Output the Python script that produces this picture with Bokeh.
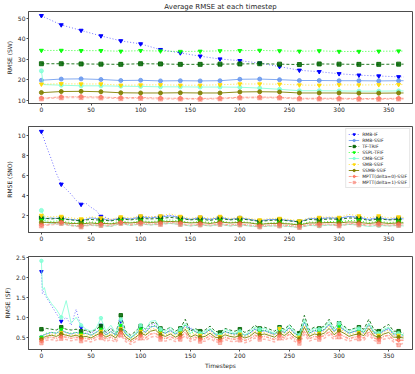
from bokeh.plotting import figure
from bokeh.models import Range1d, FixedTicker, Legend, LegendItem
from bokeh.layouts import column
from bokeh.embed import file_html
from bokeh.resources import INLINE

# ---------------- data ----------------
SERIES = ["RMB-IF", "RMB-SSIF", "TF-TRIF", "SSPL-TFIF", "CMB-SCIF",
          "SMB-SSIF", "SSMB-SSIF", "MPTT(delta=0)-SSIF", "MPTT(delta=1)-SSIF"]

X_TICKS = [0, 50, 100, 150, 200, 250, 300, 350]

# Panel 1: RMSE (SW)
SW_X = [0, 2] + list(range(20, 361, 20)) + [365]
SW_RMB_IF = [51.3, 50.8, 46.8, 44.1, 41.4, 39.0, 37.5, 34.7, 33.1, 31.5, 30.1, 29.3, 28.1, 26.4, 24.6, 23.9, 22.9, 22.2, 21.8, 21.4, 21.3]
SW_RMB_SSIF = [19.7, 19.8, 20.3, 20.4, 20.1, 19.6, 19.7, 19.4, 19.5, 19.4, 19.5, 20.2, 20.3, 20.0, 19.6, 19.6, 19.5, 19.5, 19.4, 19.5, 19.5]
SW_TF_TRIF = [27.8, 27.8, 27.8, 27.7, 27.6, 27.5, 27.8, 27.7, 27.5, 27.5, 27.6, 27.7, 27.8, 27.6, 27.4, 27.7, 27.6, 27.5, 27.5, 27.6, 27.6]
SW_SSPL_TFIF = [34.3, 34.3, 34.3, 34.2, 34.2, 33.9, 34.2, 34.0, 33.8, 33.9, 34.1, 34.2, 34.3, 34.1, 33.9, 34.1, 33.8, 33.8, 33.9, 34.0, 34.0]
SW_CMB_SCIF = [24.3, 17.6, 17.3, 17.0, 17.0, 16.8, 16.7, 16.5, 16.5, 16.4, 16.4, 16.3, 15.9, 15.3, 14.6, 14.6, 14.5, 14.4, 14.4, 14.5, 14.5]
SW_SMB_SSIF = [17.8, 17.8, 18.0, 17.9, 17.9, 17.3, 17.4, 17.5, 17.3, 17.3, 17.5, 17.9, 17.9, 17.8, 17.4, 17.3, 17.5, 17.4, 17.5, 17.6, 17.6]
SW_SSMB_SSIF = [13.7, 13.7, 14.2, 14.3, 14.1, 13.6, 13.5, 13.5, 13.6, 13.5, 13.5, 14.0, 14.1, 14.0, 13.5, 13.5, 13.5, 13.4, 13.4, 13.5, 13.5]
SW_MPTT0 = [11.0, 11.0, 11.6, 11.7, 11.5, 11.2, 11.3, 11.0, 10.9, 10.8, 11.0, 11.4, 11.5, 11.4, 10.9, 10.9, 10.9, 10.8, 10.8, 10.9, 10.9]
SW_MPTT1 = [10.6, 10.6, 11.1, 11.2, 11.0, 10.7, 10.8, 10.5, 10.5, 10.4, 10.6, 11.0, 11.1, 11.0, 10.5, 10.5, 10.5, 10.4, 10.4, 10.5, 10.5]

# Panel 2: RMSE (SNO)
SNO_X = list(range(0, 70, 5)) + list(range(70, 361, 10)) + [365]
SNO_RMB_IF = [10.35, 8.9, 7.6, 6.2, 5.1, 4.6, 4.1, 3.5, 3.1, 3.2, 2.8, 2.5, 1.9, 1.8,
              1.6, 1.7, 1.6, 1.9, 1.8, 1.9, 2.0, 1.8, 1.6, 1.8, 1.6, 1.8, 1.6, 1.75, 1.6, 1.45,
              1.6, 1.6, 1.5, 1.35, 1.7, 1.7, 1.8, 1.7, 1.9, 1.8, 1.6, 1.8, 1.6, 1.75, 1.7]
SNO_RMB_SSIF = [1.75, 1.7, 1.75, 1.7, 1.75, 1.65, 1.6, 1.55, 1.5, 1.6, 1.75, 1.7, 1.65, 1.6,
                1.5, 1.75, 1.65, 1.85, 1.75, 1.85, 1.95, 1.8, 1.6, 1.75, 1.6, 1.8, 1.6, 1.75, 1.6, 1.45,
                1.6, 1.6, 1.5, 1.35, 1.7, 1.65, 1.75, 1.7, 1.9, 1.8, 1.6, 1.75, 1.6, 1.7, 1.65]
SNO_TF_TRIF = [1.75, 1.7, 1.65, 1.7, 1.7, 1.6, 1.55, 1.5, 1.45, 1.55, 1.6, 1.55, 1.55, 1.5,
               1.45, 1.65, 1.55, 1.7, 1.65, 1.7, 1.8, 1.7, 1.55, 1.65, 1.5, 1.7, 1.55, 1.65, 1.55, 1.4,
               1.5, 1.55, 1.45, 1.35, 1.6, 1.55, 1.65, 1.6, 1.75, 1.7, 1.5, 1.65, 1.55, 1.6, 1.6]
SNO_SSPL_TFIF = [1.5, 1.45, 1.4, 1.45, 1.45, 1.35, 1.3, 1.25, 1.2, 1.3, 1.35, 1.3, 1.3, 1.25,
                 1.2, 1.45, 1.3, 1.45, 1.4, 1.45, 1.55, 1.45, 1.3, 1.4, 1.3, 1.45, 1.3, 1.4, 1.3, 1.15,
                 1.25, 1.3, 1.2, 1.1, 1.35, 1.3, 1.4, 1.35, 1.5, 1.45, 1.3, 1.4, 1.3, 1.35, 1.3]
SNO_CMB_SCIF = [2.5, 1.3, 1.2, 1.15, 1.2, 1.1, 1.0, 0.95, 0.9, 1.0, 1.05, 1.0, 1.0, 0.95,
                0.9, 1.2, 1.0, 1.15, 1.05, 1.15, 1.2, 1.1, 0.95, 1.05, 0.95, 1.1, 0.95, 1.05, 0.95, 0.85,
                0.95, 0.95, 0.9, 0.8, 1.0, 0.95, 1.05, 1.0, 1.1, 1.05, 0.9, 1.0, 0.95, 1.0, 0.95]
SNO_SMB_SSIF = [2.0, 1.9, 1.85, 1.9, 1.9, 1.8, 1.75, 1.7, 1.65, 1.75, 1.85, 1.8, 1.75, 1.7,
                1.6, 1.85, 1.75, 1.95, 1.85, 1.95, 2.15, 1.9, 1.7, 1.85, 1.7, 1.9, 1.7, 1.8, 1.7, 1.55,
                1.7, 1.7, 1.6, 1.45, 1.75, 1.8, 1.85, 1.8, 2.1, 1.95, 1.75, 1.95, 1.75, 1.85, 1.8]
SNO_SSMB_SSIF = [1.3, 1.3, 1.3, 1.3, 1.35, 1.25, 1.2, 1.2, 1.15, 1.2, 1.25, 1.2, 1.2, 1.2,
                 1.15, 1.3, 1.25, 1.35, 1.3, 1.35, 1.4, 1.35, 1.25, 1.3, 1.2, 1.35, 1.25, 1.3, 1.25, 1.1,
                 1.2, 1.2, 1.15, 1.05, 1.25, 1.25, 1.3, 1.25, 1.35, 1.3, 1.2, 1.3, 1.2, 1.25, 1.25]
SNO_MPTT0 = [1.05, 1.1, 1.15, 1.2, 1.3, 1.15, 1.05, 1.0, 0.95, 1.05, 1.1, 1.05, 1.1, 1.05,
             1.0, 1.3, 1.1, 1.25, 1.15, 1.2, 1.3, 1.2, 1.05, 1.15, 1.05, 1.2, 1.05, 1.15, 1.05, 0.95,
             1.05, 1.05, 1.0, 0.9, 1.1, 1.1, 1.15, 1.05, 1.2, 1.15, 1.05, 1.15, 1.05, 1.1, 1.05]
SNO_MPTT1 = [0.95, 1.0, 1.05, 1.1, 1.2, 1.05, 0.95, 0.9, 0.85, 0.95, 1.0, 0.95, 1.0, 0.95,
             0.9, 1.2, 1.0, 1.15, 1.05, 1.1, 1.2, 1.1, 0.95, 1.05, 0.95, 1.1, 0.95, 1.05, 0.95, 0.85,
             0.95, 0.95, 0.9, 0.8, 1.0, 1.0, 1.05, 0.95, 1.1, 1.05, 0.95, 1.05, 0.95, 1.0, 0.95]

# Panel 3: RMSE (SF)
SF_X = [0, 1, 2, 3] + list(range(5, 366, 5))
SF_RMB_IF = [2.15, 1.6, 1.65, 1.6, 1.5, 1.3, 1.1, 0.9, 1.0, 0.8, 1.2, 0.75, 0.65, 0.6,
             0.68, 0.8, 0.6, 0.72, 0.55, 0.9, 0.58, 0.48, 0.58, 0.72, 0.65, 0.8, 0.85, 0.65, 0.6,
             0.7, 0.58, 0.65, 0.75, 0.75, 0.65, 0.55, 0.6, 0.68, 0.55, 0.52, 0.65, 0.6, 0.55, 0.6,
             0.52, 0.6, 0.7, 0.65, 0.68, 0.6, 0.55, 0.68, 0.6, 0.72, 0.6, 0.52, 0.85, 0.6, 0.68,
             0.65, 0.7, 0.82, 0.65, 0.78, 0.7, 0.6, 0.65, 0.68, 0.6, 0.78, 0.6, 0.55, 0.65, 0.7,
             0.55, 0.55, 0.5]
SF_RMB_SSIF = [0.5, 0.52, 0.55, 0.56, 0.58, 0.62, 0.6, 0.66, 0.62, 0.58, 0.62, 0.58, 0.6, 0.55,
               0.62, 0.7, 0.56, 0.64, 0.55, 0.78, 0.58, 0.48, 0.58, 0.7, 0.62, 0.76, 0.78, 0.64, 0.6,
               0.66, 0.58, 0.64, 0.8, 0.72, 0.64, 0.58, 0.6, 0.7, 0.58, 0.55, 0.64, 0.6, 0.58, 0.62,
               0.55, 0.6, 0.7, 0.64, 0.66, 0.62, 0.58, 0.68, 0.62, 0.74, 0.6, 0.54, 0.88, 0.6, 0.66,
               0.64, 0.68, 0.82, 0.64, 0.76, 0.68, 0.6, 0.64, 0.66, 0.62, 0.82, 0.62, 0.58, 0.66, 0.72,
               0.58, 0.58, 0.55]
SF_TF_TRIF = [0.7, 0.7, 0.68, 0.7, 0.72, 0.7, 0.68, 0.75, 0.7, 0.68, 0.7, 0.65, 0.68, 0.62,
              0.7, 0.78, 0.62, 0.72, 0.6, 1.05, 0.65, 0.55, 0.65, 0.78, 0.7, 0.85, 0.88, 0.72, 0.68,
              0.75, 0.65, 0.72, 0.95, 0.65, 0.72, 0.65, 0.68, 0.78, 0.65, 0.62, 0.72, 0.68, 0.65, 0.7,
              0.62, 0.68, 0.8, 0.72, 0.75, 0.7, 0.65, 0.75, 0.7, 0.82, 0.68, 0.6, 1.05, 0.68, 0.75,
              0.72, 0.78, 0.95, 0.72, 0.85, 0.78, 0.68, 0.72, 0.75, 0.7, 0.95, 0.7, 0.65, 0.75, 0.82,
              0.65, 0.65, 0.6]
SF_SSPL_TFIF = [0.5, 0.52, 0.55, 0.58, 0.6, 0.62, 0.6, 0.7, 0.62, 0.6, 0.62, 0.58, 0.6, 0.55,
                0.62, 0.7, 0.55, 0.65, 0.55, 0.8, 0.58, 0.48, 0.58, 0.7, 0.62, 0.75, 0.8, 0.65, 0.6,
                0.68, 0.58, 0.65, 0.82, 0.58, 0.65, 0.58, 0.6, 0.7, 0.58, 0.55, 0.65, 0.6, 0.58, 0.62,
                0.55, 0.6, 0.72, 0.65, 0.68, 0.62, 0.58, 0.68, 0.62, 0.75, 0.6, 0.52, 0.9, 0.6, 0.68,
                0.65, 0.7, 0.85, 0.65, 0.78, 0.7, 0.6, 0.65, 0.68, 0.62, 0.85, 0.62, 0.58, 0.68, 0.75,
                0.58, 0.58, 0.55]
SF_CMB_SCIF = [2.42, 1.75, 1.7, 1.75, 1.55, 1.35, 1.2, 1.0, 1.42, 0.85, 1.0, 0.8, 0.7, 0.65,
               0.72, 0.98, 0.65, 0.8, 0.6, 0.95, 0.62, 0.5, 0.6, 0.8, 0.7, 0.9, 0.92, 0.7, 0.65,
               0.75, 0.6, 0.7, 0.85, 0.6, 0.7, 0.6, 0.65, 0.72, 0.6, 0.55, 0.7, 0.65, 0.6, 0.65,
               0.55, 0.65, 0.75, 0.7, 0.72, 0.65, 0.6, 0.72, 0.65, 0.8, 0.65, 0.55, 0.95, 0.65, 0.72,
               0.7, 0.75, 0.9, 0.7, 0.85, 0.75, 0.65, 0.7, 0.72, 0.65, 0.85, 0.65, 0.6, 0.7, 0.75,
               0.6, 0.6, 0.55]
SF_SMB_SSIF = [0.45, 0.48, 0.5, 0.52, 0.55, 0.58, 0.56, 0.62, 0.58, 0.55, 0.58, 0.55, 0.56, 0.52,
               0.58, 0.65, 0.52, 0.6, 0.52, 0.72, 0.55, 0.45, 0.55, 0.65, 0.58, 0.7, 0.72, 0.6, 0.56,
               0.62, 0.55, 0.6, 0.75, 0.55, 0.6, 0.55, 0.56, 0.65, 0.55, 0.52, 0.6, 0.56, 0.55, 0.58,
               0.52, 0.56, 0.66, 0.6, 0.62, 0.58, 0.55, 0.72, 0.58, 0.68, 0.56, 0.5, 0.8, 0.56, 0.62,
               0.6, 0.65, 0.78, 0.6, 0.7, 0.65, 0.56, 0.6, 0.62, 0.58, 0.78, 0.58, 0.55, 0.62, 0.68,
               0.55, 0.55, 0.52]
SF_SSMB_SSIF = [0.45, 0.46, 0.48, 0.5, 0.52, 0.55, 0.52, 0.58, 0.55, 0.52, 0.55, 0.5, 0.52, 0.48,
                0.55, 0.6, 0.5, 0.56, 0.48, 0.68, 0.5, 0.42, 0.5, 0.6, 0.55, 0.65, 0.68, 0.56, 0.52,
                0.58, 0.5, 0.56, 0.7, 0.5, 0.56, 0.5, 0.52, 0.6, 0.5, 0.48, 0.56, 0.52, 0.5, 0.54,
                0.48, 0.52, 0.62, 0.56, 0.58, 0.54, 0.5, 0.6, 0.54, 0.64, 0.52, 0.46, 0.75, 0.52, 0.58,
                0.56, 0.6, 0.72, 0.56, 0.66, 0.6, 0.52, 0.56, 0.58, 0.54, 0.72, 0.54, 0.5, 0.58, 0.62,
                0.5, 0.5, 0.48]
SF_MPTT0 = [0.4, 0.42, 0.44, 0.45, 0.48, 0.5, 0.47, 0.52, 0.5, 0.47, 0.5, 0.46, 0.47, 0.44,
            0.5, 0.55, 0.45, 0.5, 0.43, 0.62, 0.45, 0.38, 0.45, 0.54, 0.48, 0.58, 0.6, 0.5, 0.46,
            0.52, 0.45, 0.5, 0.62, 0.45, 0.5, 0.45, 0.46, 0.54, 0.45, 0.42, 0.5, 0.46, 0.45, 0.48,
            0.42, 0.46, 0.55, 0.5, 0.52, 0.48, 0.44, 0.54, 0.48, 0.58, 0.46, 0.4, 0.65, 0.46, 0.52,
            0.5, 0.54, 0.64, 0.5, 0.58, 0.52, 0.46, 0.5, 0.52, 0.48, 0.64, 0.48, 0.44, 0.52, 0.55,
            0.44, 0.42, 0.42]
SF_MPTT1 = [0.35, 0.36, 0.38, 0.4, 0.42, 0.44, 0.41, 0.46, 0.44, 0.41, 0.44, 0.4, 0.41, 0.38,
            0.44, 0.48, 0.39, 0.44, 0.37, 0.55, 0.39, 0.32, 0.39, 0.47, 0.42, 0.5, 0.53, 0.44, 0.4,
            0.45, 0.39, 0.44, 0.54, 0.39, 0.44, 0.39, 0.4, 0.47, 0.39, 0.36, 0.44, 0.4, 0.39, 0.42,
            0.36, 0.4, 0.48, 0.44, 0.45, 0.42, 0.38, 0.47, 0.42, 0.5, 0.4, 0.34, 0.57, 0.4, 0.45,
            0.44, 0.47, 0.56, 0.44, 0.5, 0.45, 0.4, 0.44, 0.45, 0.42, 0.56, 0.42, 0.38, 0.45, 0.48,
            0.38, 0.3, 0.35]

SW = [SW_RMB_IF, SW_RMB_SSIF, SW_TF_TRIF, SW_SSPL_TFIF, SW_CMB_SCIF, SW_SMB_SSIF, SW_SSMB_SSIF, SW_MPTT0, SW_MPTT1]
SNO = [SNO_RMB_IF, SNO_RMB_SSIF, SNO_TF_TRIF, SNO_SSPL_TFIF, SNO_CMB_SCIF, SNO_SMB_SSIF, SNO_SSMB_SSIF, SNO_MPTT0, SNO_MPTT1]
SF = [SF_RMB_IF, SF_RMB_SSIF, SF_TF_TRIF, SF_SSPL_TFIF, SF_CMB_SCIF, SF_SMB_SSIF, SF_SSMB_SSIF, SF_MPTT0, SF_MPTT1]

# ---------------- styles ----------------
COLORS = ["blue", "cornflowerblue", "darkgreen", "lime", "aquamarine", "gold", "olive", "tomato", "salmon"]
DASHES = ["1 2", "solid", "3 2", "1 2", "solid", "1 2", "solid", "3 1 1 1", "3 2"]
MARKERS = ["inverted_triangle", "circle", "square", "inverted_triangle", "circle",
           "inverted_triangle", "circle", "plus", "square"]
LINE_ALPHA = [0.55, 0.8, 0.85, 0.8, 0.8, 0.8, 0.9, 0.6, 0.55]
MARK_ALPHA = [1.0, 0.8, 0.85, 0.9, 0.8, 0.9, 0.9, 0.6, 0.5]

FONT = "DejaVu Sans"
TXT = "#262626"
AX = "#4d4d4d"
W = 413


def make_fig(height, ylim, yticks, ylabel, top, bottom, ylabels=None):
    p = figure(width=W, height=height, output_backend="svg", toolbar_location=None,
               x_range=Range1d(-13, 374), y_range=Range1d(*ylim),
               min_border_left=21, min_border_right=1,
               min_border_top=top, min_border_bottom=bottom)
    p.grid.visible = False
    p.outline_line_color = AX
    p.outline_line_width = 1
    p.outline_line_alpha = 1
    for ax in (p.xaxis[0], p.yaxis[0]):
        ax.axis_line_color = AX
        ax.major_tick_line_color = AX
        ax.minor_tick_line_color = None
        ax.major_tick_out = 2
        ax.major_tick_in = 0
        ax.major_label_standoff = 1
        ax.major_label_text_font = FONT
        ax.major_label_text_font_size = "6px"
        ax.major_label_text_color = TXT
        ax.axis_label_text_font = FONT
        ax.axis_label_text_font_size = "6px"
        ax.axis_label_text_font_style = "normal"
        ax.axis_label_text_color = TXT
        ax.axis_label_standoff = 2
    p.xaxis.ticker = FixedTicker(ticks=X_TICKS)
    p.yaxis.ticker = FixedTicker(ticks=yticks)
    if ylabels:
        p.yaxis.major_label_overrides = dict(zip(yticks, ylabels))
    p.yaxis.axis_label = ylabel
    return p


def draw(p, xs, data, msize=4.0, lw=1.0, mptt_lw=1.0):
    items = []
    for i, ys in enumerate(data):
        assert len(xs) == len(ys), (i, len(xs), len(ys))
        r1 = p.line(xs, ys, color=COLORS[i], line_dash=DASHES[i],
                    line_width=(mptt_lw if i >= 7 else lw), line_alpha=LINE_ALPHA[i])
        mx = [x for x in xs if x % 20 == 0]
        my = [y for x, y in zip(xs, ys) if x % 20 == 0]
        r2 = p.scatter(mx, my, marker=MARKERS[i], size=msize, color=COLORS[i],
                       fill_alpha=MARK_ALPHA[i], line_alpha=MARK_ALPHA[i])
        items.append(LegendItem(label=SERIES[i], renderers=[r1, r2]))
    return items


p1 = make_fig(120, (8.35, 53.35), [10, 20, 30, 40, 50], "RMSE (SW)", 7, 17)
p1.title.text = "Average RMSE at each timestep"
p1.title.align = "center"
p1.title.text_font = FONT
p1.title.text_font_size = "7px"
p1.title.text_font_style = "normal"
p1.title.text_color = TXT
p1.title.standoff = 1
draw(p1, SW_X, SW)

p2 = make_fig(129, (0.3, 10.85), [2, 4, 6, 8, 10], "RMSE (SNO)", 6, 17)
items = draw(p2, SNO_X, SNO)
leg = Legend(items=items, location="top_right")
leg.label_text_font = FONT
leg.label_text_font_size = "4.5px"
leg.label_text_color = TXT
leg.label_height = 6
leg.glyph_height = 6
leg.glyph_width = 11
leg.label_standoff = 3
leg.spacing = 0
leg.padding = 2
leg.margin = 2
leg.border_line_color = "#cccccc"
leg.border_line_width = 1
leg.background_fill_alpha = 0.8
p2.add_layout(leg)

p3 = make_fig(122, (0.19, 2.53), [0.5, 1.0, 1.5, 2.0, 2.5], "RMSE (SF)", 7, 20,
              ylabels=["0.5", "1.0", "1.5", "2.0", "2.5"])
p3.xaxis.axis_label = "Timesteps"
p3.xaxis.axis_label_standoff = 1
draw(p3, SF_X, SF, msize=3.5, lw=1.0, mptt_lw=1.5)

layout = column(p1, p2, p3, spacing=0)
open("out.html", "w").write(file_html(layout, INLINE))
